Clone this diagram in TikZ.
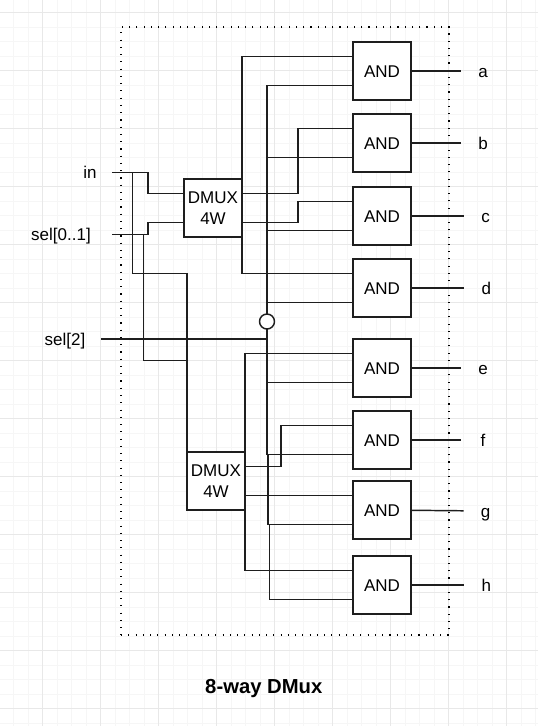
\documentclass[tikz,border=0pt]{standalone}
\usepackage{fontspec}
\setmainfont{Liberation Sans}
\usetikzlibrary{positioning}
\definecolor{gridminor}{HTML}{F6F6F6}
\definecolor{gridmajor}{HTML}{E8E8E8}
\definecolor{wirecol}{HTML}{1E1E1E}
\def\pin{10.875pt}

\begin{document}
\begin{tikzpicture}[
    x=0.75pt, y=-0.75pt,
    node distance=10.5pt and 37.5pt,
    gatebox/.style={rectangle, draw=wirecol, line width=1.1pt, fill=white,
                    minimum height=43.5pt, minimum width=43.5pt,
                    inner sep=0pt, outer sep=0pt, align=center,
                    font=\fontsize{12.75}{15.6}\selectfont},
    andbox/.style={gatebox, text height=9.9pt},
    pinlabel/.style={rectangle, minimum width=33pt, inner sep=0pt, outer sep=0pt,
                     text height=12pt, text depth=3pt,
                     font=\fontsize{12.75}{15.6}\selectfont},
    framebox/.style={rectangle, draw=black, line width=0.85pt,
                     dash pattern=on 0.85pt off 4.59pt,
                     minimum width=246pt, minimum height=456pt,
                     inner sep=0pt, outer sep=0pt},
    notcircle/.style={circle, draw=wirecol, line width=1.1pt, fill=white,
                      minimum size=11.25pt, inner sep=0pt, outer sep=0pt},
    wire/.style={draw=wirecol, line width=1.1pt},
]
\useasboundingbox (0,0) rectangle (538,726);

%% Paper grid
\begin{scope}[shift={(42.7,12.7)}]
\draw[gridminor, line width=0.6pt, step=10.875pt] (-43,-13) grid (496,714);
\draw[gridmajor, line width=0.75pt, step=43.5pt]  (-43,-13) grid (496,714);
\end{scope}

%% Outer frame and title
\node[framebox] (frame) at (285,331) {};
\node[font=\fontsize{15.2}{18}\selectfont\bfseries] (title) at (263.8,689) {8-way DMux};

%% AND column
\node[andbox] (anda) at (382,71) {AND};
\node[andbox, below=10.5pt of anda]  (andb) {AND};
\node[andbox, below=11.25pt of andb] (andc) {AND};
\node[andbox, below=10.5pt of andc]  (andd) {AND};
\node[andbox, below=16.5pt of andd]  (ande) {AND};
\node[andbox, below=10.5pt of ande]  (andf) {AND};
\node[andbox, below=9pt of andf]     (andg) {AND};
\node[andbox, below=12.75pt of andg] (andh) {AND};

%% Two demuxes and the inverter
\node[gatebox] (dmuxa) at (213,208) {DMUX\\4W};
\node[gatebox] (dmuxb) at (216,481) {DMUX\\4W};
\node[notcircle] (notsel) at (267,321.5) {};

%% Input labels
\node[pinlabel, anchor=east, yshift=-0.5pt] (in) at (112,172) {in};
\node[pinlabel, anchor=east, minimum width=76.5pt] (selab) at (112,234.5) {sel[0..1]};
\node[pinlabel, anchor=east, minimum width=54pt]   (selc)  at (101,339)   {sel[2]};

%% Output labels
\node[pinlabel, right=37.5pt of anda] (outa) {a};
\node[pinlabel, right=37.5pt of andb] (outb) {b};
\node[pinlabel, right=39.4pt of andc] (outc) {c};
\node[pinlabel, right=40.1pt of andd] (outd) {d};
\node[pinlabel, right=37.5pt of ande] (oute) {e};
\node[pinlabel, right=37.5pt of andf] (outf) {f};
\node[pinlabel, right=39.4pt of andg, yshift=-0.75pt] (outg) {g};
\node[pinlabel, right=40.1pt of andh] (outh) {h};

%% Bends and taps
\coordinate (jogin)  at (148,183);
\coordinate (jogsel) at (148,228);
\coordinate (tapin)  at (132.5,172);
\coordinate (tapsel) at (143.5,234.5);
\coordinate (bendin)  at (187,273.7);
\coordinate (bendsel) at (187,360.7);
\coordinate (jogb) at (298,160);
\coordinate (jogc) at (298,212);
\coordinate (jogf) at (281,445);
\coordinate (tapg) at (268,455);
\coordinate (taph) at (269.5,524.5);

%% Inputs
\draw[wire] (in.east) -| (jogin) |- ([yshift=\pin]dmuxa.west);
\draw[wire] (selab.east) -| (jogsel) |- ([yshift=-\pin]dmuxa.west);
\draw[wire] (tapin) |- (bendin) -- (dmuxb.north west);
\draw[wire] (tapsel) |- (bendsel);

%% First demux to a..d
\draw[wire] (dmuxa.north east) |- ([yshift=\pin]anda.west);
\draw[wire] ([yshift=\pin]dmuxa.east) -| (jogb) |- ([yshift=\pin]andb.west);
\draw[wire] ([yshift=-\pin]dmuxa.east) -| (jogc) |- ([yshift=\pin]andc.west);
\draw[wire] (dmuxa.south east) |- ([yshift=\pin]andd.west);

%% Second demux to e..h
\draw[wire] (dmuxb.north east) |- ([yshift=\pin]ande.west);
\draw[wire] ([yshift=\pin]dmuxb.east) -| (jogf) |- ([yshift=\pin]andf.west);
\draw[wire] ([yshift=-\pin]dmuxb.east) |- ([yshift=\pin]andg.west);
\draw[wire] (dmuxb.south east) |- ([yshift=\pin]andh.west);

%% Select bit, inverted rail on top
\draw[wire] (notsel.north) |- ([yshift=-\pin]anda.west);
\draw[wire] ([yshift=-\pin]notsel.north |- andb.west) -- ([yshift=-\pin]andb.west);
\draw[wire] ([yshift=-\pin]notsel.north |- andc.west) -- ([yshift=-\pin]andc.west);
\draw[wire] ([yshift=-\pin]notsel.north |- andd.west) -- ([yshift=-\pin]andd.west);

%% Select bit, plain rail below
\draw[wire] (selc.east) -- (selc.east -| notsel.south);
\draw[wire] (notsel.south) |- ([yshift=-\pin]ande.west);
\draw[wire] (notsel.south) |- ([yshift=-\pin]andf.west);
\draw[wire] (tapg) |- ([yshift=-\pin]andg.west);
\draw[wire] (taph) |- ([yshift=-\pin]andh.west);

%% Outputs
\draw[wire] (anda) -- (outa);
\draw[wire] (andb) -- (outb);
\draw[wire] (andc) -- (outc);
\draw[wire] (andd) -- (outd);
\draw[wire] (ande) -- (oute);
\draw[wire] (andf) -- (outf);
\draw[wire] (andg) -- (outg);
\draw[wire] (andh) -- (outh);
\end{tikzpicture}
\end{document}
